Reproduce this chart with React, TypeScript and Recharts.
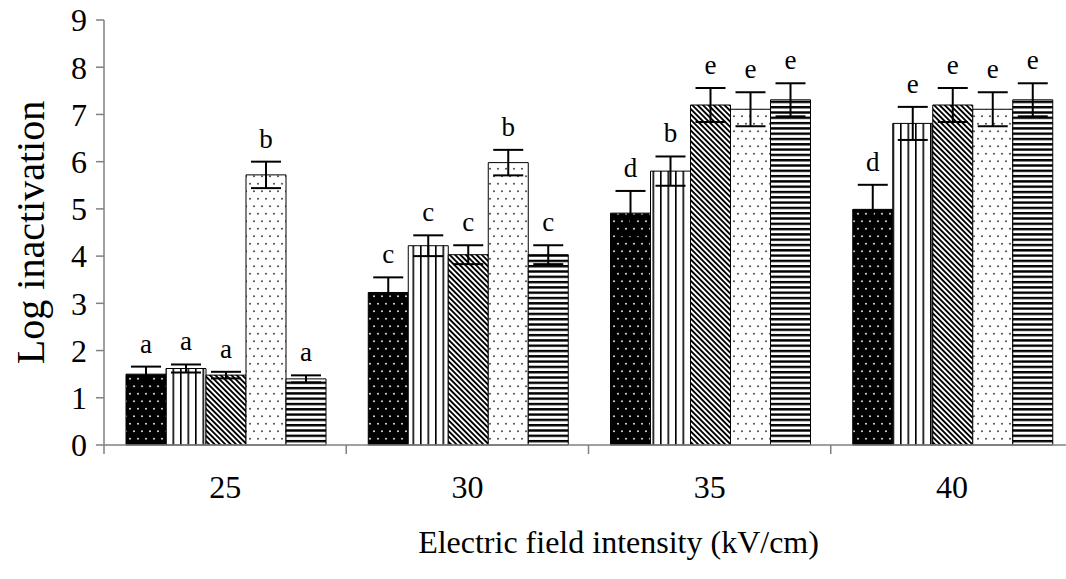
import React from 'react';
import { BarChart, Bar, XAxis, YAxis, ErrorBar, LabelList } from 'recharts';

const FONT = "'Liberation Serif', 'Times New Roman', Times, serif";
const AXIS_GREY = '#808080';

// chart frame
const CHART_W = 1080;
const CHART_H = 579;
const MARGIN = { top: 20, right: 7, bottom: 0, left: 0 };
const Y_AXIS_W = 104;
const X_AXIS_H = 134;

const categories = ['25', '30', '35', '40'];
const yTicks = [0, 1, 2, 3, 4, 5, 6, 7, 8, 9];

// log inactivation per treatment, one value per field intensity
const darkDots = [1.5, 3.23, 4.91, 4.99];
const darkDotsErr = [0.16, 0.32, 0.47, 0.52];
const darkDotsLetters = ['a', 'c', 'd', 'd'];

const vertical = [1.62, 4.22, 5.8, 6.81];
const verticalErr = [0.085, 0.22, 0.31, 0.35];
const verticalLetters = ['a', 'c', 'b', 'e'];

const diagonal = [1.48, 4.03, 7.2, 7.2];
const diagonalErr = [0.07, 0.2, 0.36, 0.36];
const diagonalLetters = ['a', 'c', 'e', 'e'];

const lightDots = [5.72, 5.98, 7.11, 7.11];
const lightDotsErr = [0.28, 0.27, 0.36, 0.36];
const lightDotsLetters = ['b', 'b', 'e', 'e'];

const horizontal = [1.4, 4.03, 7.31, 7.31];
const horizontalErr = [0.075, 0.2, 0.35, 0.35];
const horizontalLetters = ['a', 'c', 'e', 'e'];

const series = [
  { key: 'darkDots', values: darkDots, errors: darkDotsErr, letters: darkDotsLetters, fill: 'url(#pat-dark-dots)' },
  { key: 'vertical', values: vertical, errors: verticalErr, letters: verticalLetters, fill: 'url(#pat-vertical)' },
  { key: 'diagonal', values: diagonal, errors: diagonalErr, letters: diagonalLetters, fill: 'url(#pat-diagonal)' },
  { key: 'lightDots', values: lightDots, errors: lightDotsErr, letters: lightDotsLetters, fill: 'url(#pat-light-dots)' },
  { key: 'horizontal', values: horizontal, errors: horizontalErr, letters: horizontalLetters, fill: 'url(#pat-horizontal)' },
];

const data = categories.map((field, i) => {
  const row: Record<string, string | number> = { field };
  series.forEach((s) => {
    row[s.key] = s.values[i];
    row[`${s.key}Err`] = s.errors[i];
    row[`${s.key}Letter`] = s.letters[i];
  });
  return row;
});

const BAND = (CHART_W - MARGIN.right - MARGIN.left - Y_AXIS_W) / categories.length;

// category label plus a boundary tick on the left edge of each band
const FieldTick = (props: any) => {
  const { x, y, payload } = props;
  const half = payload?.offset || BAND / 2;
  return (
    <g>
      <line x1={x - half} x2={x - half} y1={y} y2={y + 9} stroke={AXIS_GREY} strokeWidth={1.5} />
      <text x={x} y={y + 30} dy="0.71em" textAnchor="middle" fontSize={32} fontFamily={FONT} fill="#000">
        {payload.value}
      </text>
    </g>
  );
};

// significance letter placed just above the error bar
const letterLabel = (values: number[], errors: number[]) => (props: any) => {
  const { x, y, width, height, value, index } = props;
  const v = values[index];
  if (!v) return null;
  const pxPerUnit = Math.abs(height) / v;
  const errTop = y - errors[index] * pxPerUnit;
  return (
    <text x={x + width / 2} y={errTop - 14} textAnchor="middle" fontSize={27} fontFamily={FONT} fill="#000">
      {value}
    </text>
  );
};

const YTitle = (props: any) => {
  const { viewBox } = props;
  const cx = viewBox.x + 30;
  const cy = viewBox.y + viewBox.height / 2;
  return (
    <text
      x={cx}
      y={cy}
      transform={`rotate(-90, ${cx}, ${cy})`}
      textAnchor="middle"
      dominantBaseline="central"
      fontSize={40}
      fontFamily={FONT}
      fill="#000"
    >
      Log inactivation
    </text>
  );
};

// x title sits a little right of the plot centre
const XTitle = (props: any) => {
  const { viewBox } = props;
  const cx = viewBox.x + viewBox.width / 2 + 30;
  const baseline = viewBox.y + viewBox.height - 26;
  return (
    <text x={cx} y={baseline} textAnchor="middle" fontSize={32} fontFamily={FONT} fill="#000">
      Electric field intensity (kV/cm)
    </text>
  );
};

export default function App() {
  return (
    <div style={{ position: 'absolute', left: 0, top: 0, width: 1066, height: 579, overflow: 'hidden', background: '#fff' }}>
      <BarChart width={CHART_W} height={CHART_H} data={data} margin={MARGIN} barCategoryGap={22} barGap={0}>
        <defs>
          <pattern id="pat-dark-dots" width="8" height="15" patternUnits="userSpaceOnUse">
            <rect width="8" height="15" fill="#000" />
            <circle cx="2" cy="3.75" r="1.1" fill="#cfcfcf" />
            <circle cx="6" cy="11.25" r="1.1" fill="#cfcfcf" />
          </pattern>
          <pattern id="pat-vertical" width="7.5" height="10" patternUnits="userSpaceOnUse">
            <rect width="7.5" height="10" fill="#fff" />
            <rect x="0" width="1.6" height="10" fill="#000" />
          </pattern>
          <pattern id="pat-diagonal" width="3.8" height="10" patternUnits="userSpaceOnUse" patternTransform="rotate(-45)">
            <rect width="3.8" height="10" fill="#fff" />
            <rect x="0" width="1.9" height="10" fill="#000" />
          </pattern>
          <pattern id="pat-light-dots" width="8" height="15" patternUnits="userSpaceOnUse">
            <rect width="8" height="15" fill="#fff" />
            <circle cx="2" cy="3.75" r="1.1" fill="#555" />
            <circle cx="6" cy="11.25" r="1.1" fill="#555" />
          </pattern>
          <pattern id="pat-horizontal" width="10" height="5.3" patternUnits="userSpaceOnUse">
            <rect width="10" height="5.3" fill="#fff" />
            <rect y="0" width="10" height="2.4" fill="#000" />
          </pattern>
        </defs>

        <XAxis
          dataKey="field"
          interval={0}
          height={X_AXIS_H}
          axisLine={{ stroke: AXIS_GREY, strokeWidth: 1.5 }}
          tickLine={false}
          tickSize={0}
          tickMargin={0}
          tick={<FieldTick />}
          label={<XTitle />}
        />
        <YAxis
          domain={[0, 9]}
          ticks={yTicks}
          interval={0}
          width={Y_AXIS_W}
          tickSize={8}
          tickMargin={9}
          axisLine={{ stroke: AXIS_GREY, strokeWidth: 1.5 }}
          tickLine={{ stroke: AXIS_GREY, strokeWidth: 1.5 }}
          tick={{ fill: '#000', fontSize: 32, fontFamily: FONT }}
          label={<YTitle />}
        />

        {series.map((s) => (
          <Bar key={s.key} dataKey={s.key} fill={s.fill} stroke="#000" strokeWidth={1} isAnimationActive={false}>
            <ErrorBar dataKey={`${s.key}Err`} width={15} stroke="#000" strokeWidth={2} isAnimationActive={false} />
            <LabelList dataKey={`${s.key}Letter`} content={letterLabel(s.values, s.errors)} />
          </Bar>
        ))}
      </BarChart>
    </div>
  );
}
